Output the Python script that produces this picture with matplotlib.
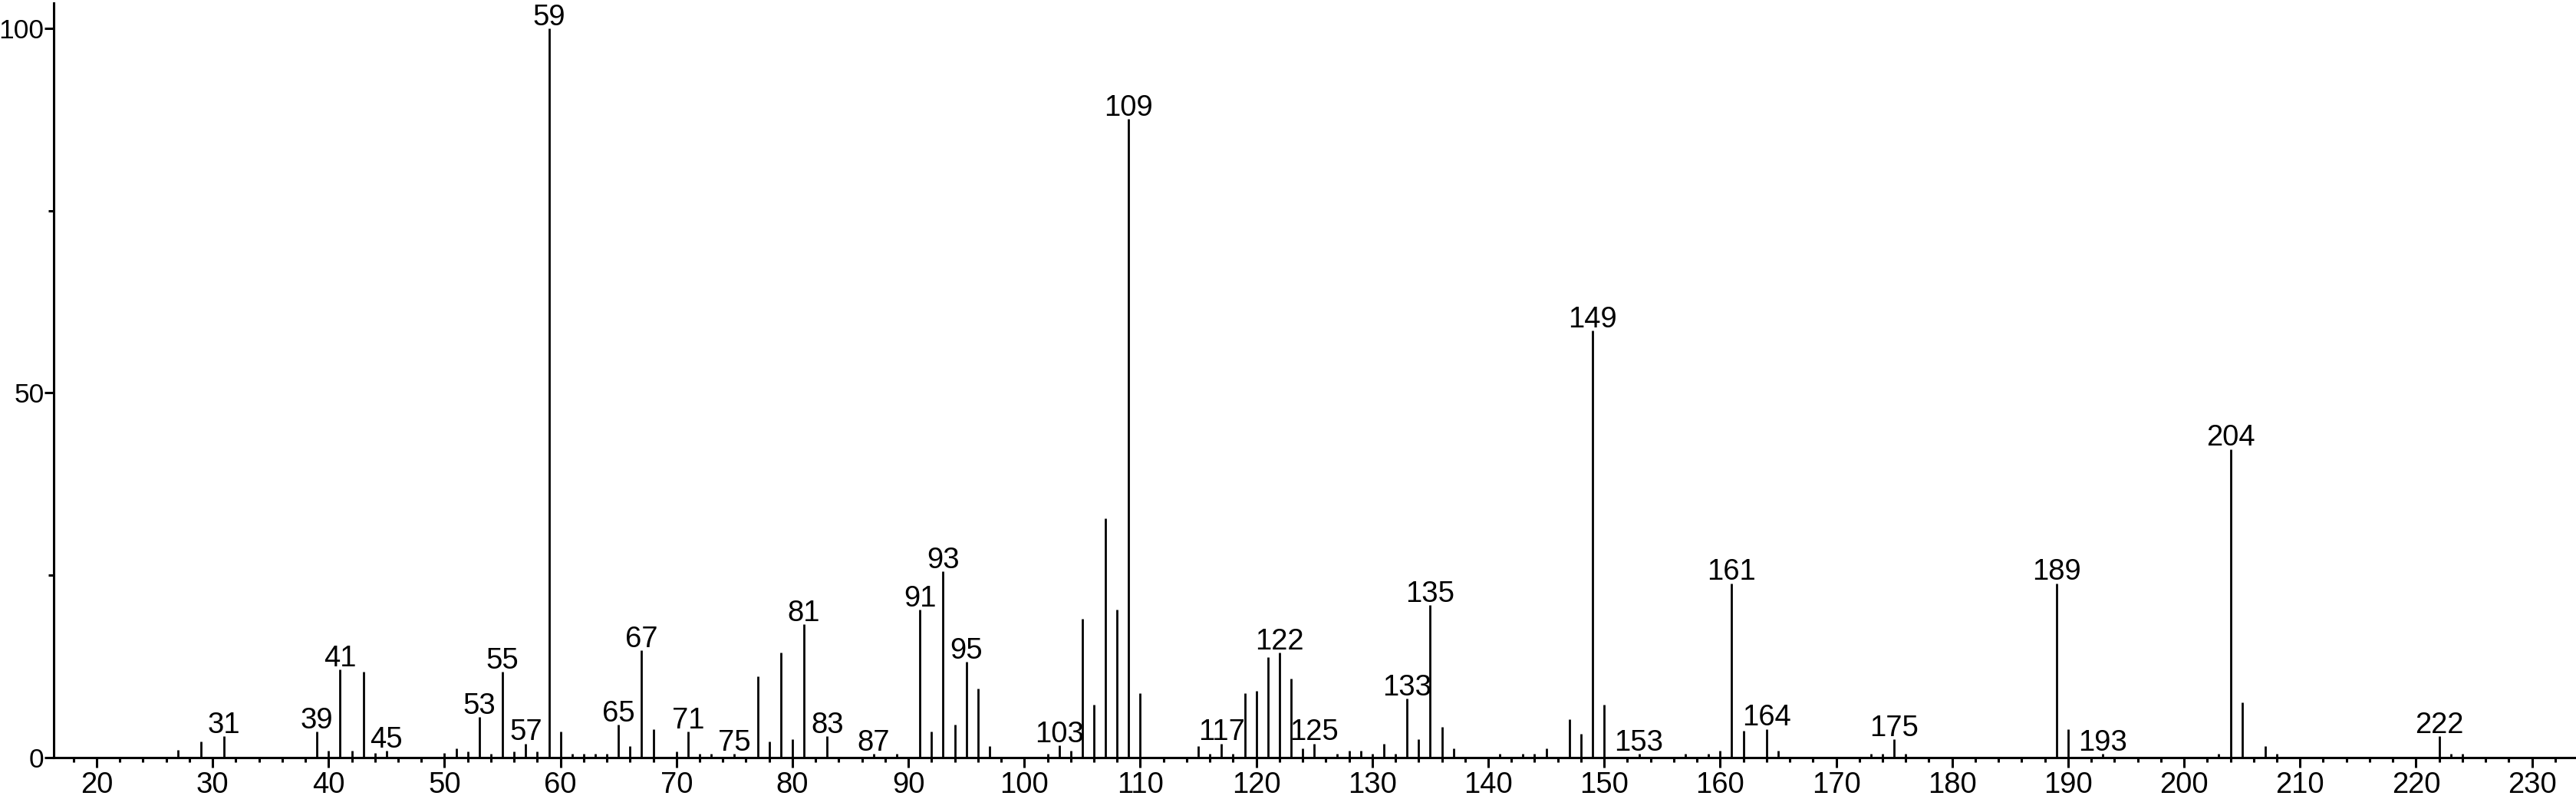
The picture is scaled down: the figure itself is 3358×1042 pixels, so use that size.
import numpy as np
from matplotlib import pyplot as plt
from matplotlib.ticker import MultipleLocator

plt.rcParams['font.family'] = ['Liberation Sans', 'DejaVu Sans']

# m/z and relative intensity
mz = [27, 29, 31, 39, 40, 41, 42, 43, 44, 45,
      50, 51, 52, 53, 54, 55, 56, 57, 58, 59, 60, 61, 62, 63, 64, 65, 66, 67, 68,
      70, 71, 72, 73, 75, 77, 78, 79, 80, 81, 83, 87, 89,
      91, 92, 93, 94, 95, 96, 97, 102, 103, 104, 105, 106, 107, 108, 109, 110,
      115, 116, 117, 118, 119, 120, 121, 122, 123, 124, 125, 127, 128, 129, 130,
      131, 132, 133, 134, 135, 136, 137, 141, 143, 144, 145, 147, 148, 149, 150,
      153, 157, 159, 160, 161, 162, 164, 165, 173, 174, 175, 176,
      189, 190, 193, 203, 204, 205, 207, 208, 222, 223, 224]
intensity = [1.0, 2.2, 2.9, 3.5, 0.9, 12.1, 0.9, 11.8, 0.6, 0.9,
             0.6, 1.2, 0.8, 5.5, 0.5, 11.7, 0.8, 1.9, 0.8, 100.0, 3.5, 0.5, 0.5, 0.5, 0.5, 4.5, 1.5, 14.7, 3.9,
             0.8, 3.5, 0.5, 0.5, 0.5, 11.1, 2.2, 14.4, 2.5, 18.3, 2.9, 0.5, 0.5,
             20.3, 3.5, 25.5, 4.5, 13.1, 9.4, 1.5, 0.5, 1.6, 0.9, 19.0, 7.2, 32.8, 20.3, 87.6, 8.8,
             1.5, 0.5, 1.9, 0.5, 8.8, 9.1, 13.8, 14.4, 10.8, 1.2, 1.9, 0.5, 0.9, 0.9, 0.5,
             1.9, 0.5, 8.1, 2.5, 20.9, 4.2, 1.2, 0.5, 0.5, 0.5, 1.2, 5.2, 3.2, 58.6, 7.2,
             0.5, 0.5, 0.5, 0.9, 23.9, 3.6, 3.9, 0.9, 0.5, 0.5, 2.5, 0.5,
             23.9, 3.9, 0.5, 0.5, 42.3, 7.5, 1.5, 0.5, 2.9, 0.5, 0.5]

labeled = [31, 39, 41, 45, 53, 55, 57, 59, 65, 67, 71, 75, 81, 83, 87, 91, 93, 95,
           103, 109, 117, 122, 125, 133, 135, 149, 153, 161, 164, 175, 189, 193, 204, 222]

fig = plt.figure(figsize=(33.58, 10.42), dpi=100)
ax = fig.add_axes([70 / 3358, 54.3 / 1042, 1 - 70 / 3358, (1038 - 54.3) / 1042])

ax.vlines(mz, 0, intensity, colors='black', linewidth=2.0)

lookup = dict(zip(mz, intensity))
for m in labeled:
    ax.annotate(str(m), (m, lookup[m]), xytext=(0, 3), textcoords='offset points',
                ha='center', va='baseline', fontsize=27.5)

ax.set_xlim(16.3, 233.8)
ax.set_ylim(0, 103.5)

ax.spines['top'].set_visible(False)
ax.spines['right'].set_visible(False)
ax.spines['left'].set_linewidth(2.2)
ax.spines['bottom'].set_linewidth(2.2)

ax.xaxis.set_major_locator(MultipleLocator(10))
ax.xaxis.set_minor_locator(MultipleLocator(2))
ax.yaxis.set_major_locator(MultipleLocator(50))
ax.yaxis.set_minor_locator(MultipleLocator(25))

ax.tick_params(axis='x', which='major', length=9.4, width=2.2, labelsize=27.5, pad=4)
ax.tick_params(axis='x', which='minor', length=4.3, width=2.2)
ax.tick_params(axis='y', which='major', length=8.6, width=2.2, labelsize=25.5, pad=0.5)
ax.tick_params(axis='y', which='minor', length=5, width=2.2)

fig.savefig('out.png', dpi=100)
